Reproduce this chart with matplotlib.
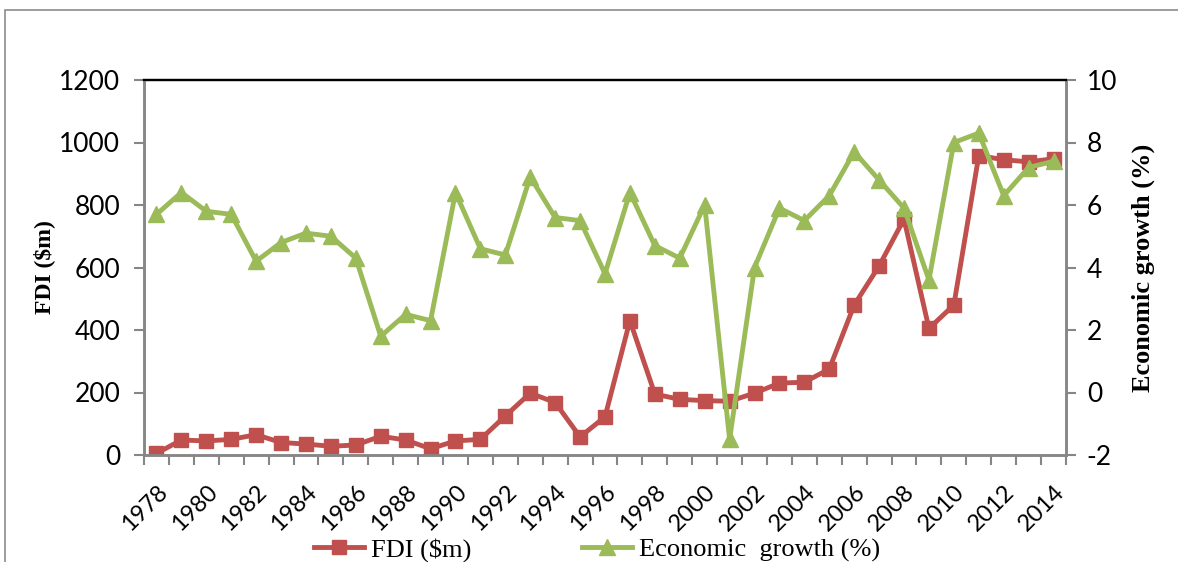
import matplotlib
matplotlib.use("Agg")
import matplotlib.pyplot as plt
from matplotlib.patches import Rectangle
import numpy as np

plt.rcParams["axes.unicode_minus"] = False

years = list(range(1978, 2015))
fdi = [5, 48, 45, 50, 65, 40, 35, 28, 32, 60, 48, 20, 45,
       50, 125, 198, 168, 58, 122, 430, 195, 178, 174, 172, 198,
       230, 233, 275, 480, 605, 755, 405, 480, 958, 945, 938, 948]
growth = [5.7, 6.4, 5.8, 5.7, 4.2, 4.8, 5.1, 5.0, 4.3, 1.8, 2.5, 2.3, 6.4,
          4.6, 4.4, 6.9, 5.6, 5.5, 3.8, 6.4, 4.7, 4.3, 6.0, -1.5, 4.0,
          5.9, 5.5, 6.3, 7.7, 6.8, 5.9, 3.6, 8.0, 8.3, 6.3, 7.2, 7.4]
year_labels = [str(y) for y in years[::2]]

RED = "#C0504D"
GREEN = "#9BBB59"
GRAY = "#868686"
tick_font = "Lato"
serif = "Liberation Serif"
TICK_SIZE = 19

fig = plt.figure(figsize=(11.78, 5.62), dpi=100)
# outer chart frame
fig.patches.append(Rectangle((5 / 1178, -0.1), 1.2, 1.1 - 10 / 562,
                             transform=fig.transFigure, fill=False,
                             edgecolor="#8c8c8c", linewidth=1.2))

ax = fig.add_axes([144 / 1178, 107 / 562, 922 / 1178, 375 / 562])
ax2 = ax.twinx()

x = np.arange(len(years))
l1, = ax.plot(x, fdi, color=RED, lw=3.5, marker="s", ms=10, label="FDI ($m)")
l2, = ax2.plot(x, growth, color=GREEN, lw=3.5, marker="^", ms=11,
               label="Economic  growth (%)")
ax2.set_zorder(ax.get_zorder() + 1)
ax2.patch.set_visible(False)

ax.set_xlim(-0.5, len(years) - 0.5)
ax.set_ylim(0, 1200)
ax.set_yticks(range(0, 1201, 200))
ax2.set_ylim(-2, 10)
ax2.set_yticks(range(-2, 11, 2))

# category boundaries carry the ticks, labels every other year
ax.set_xticks(np.arange(-0.5, len(years), 1.0))
ax.set_xticklabels([])
ax.set_xticks(x[::2], minor=True)
ax.set_xticklabels(year_labels, minor=True, rotation=45, ha="right",
                   rotation_mode="anchor", fontsize=17, family=tick_font)
ax.tick_params(axis="x", which="major", direction="out", length=7,
               width=1.5, color=GRAY)
ax.tick_params(axis="x", which="minor", length=0, pad=19)

ax.tick_params(axis="y", direction="out", length=7, width=1.5, color=GRAY,
               labelsize=TICK_SIZE, pad=10)
ax2.tick_params(axis="y", direction="out", length=7, width=1.5, color=GRAY,
                labelsize=TICK_SIZE, pad=8)
for lab in ax.get_yticklabels() + ax2.get_yticklabels():
    lab.set_family(tick_font)

for a in (ax, ax2):
    for s in ("left", "right", "bottom"):
        a.spines[s].set_color(GRAY)
        a.spines[s].set_linewidth(1.8)
    a.spines["top"].set_color("black")
    a.spines["top"].set_linewidth(1.6)

ax.set_ylabel("FDI ($m)", family=serif, fontweight="bold", fontsize=17,
              labelpad=3)
ax2.set_ylabel("Economic growth (%)", family=serif, fontweight="bold",
               fontsize=19, labelpad=10)

fig.legend(handles=[l1, l2], loc="center", bbox_to_anchor=(0.507, 0.022),
           ncol=2, frameon=False, prop={"family": serif, "size": 19},
           handlelength=1.9, columnspacing=4.2, handletextpad=0.25)

fig.savefig("out.png", dpi=100)
